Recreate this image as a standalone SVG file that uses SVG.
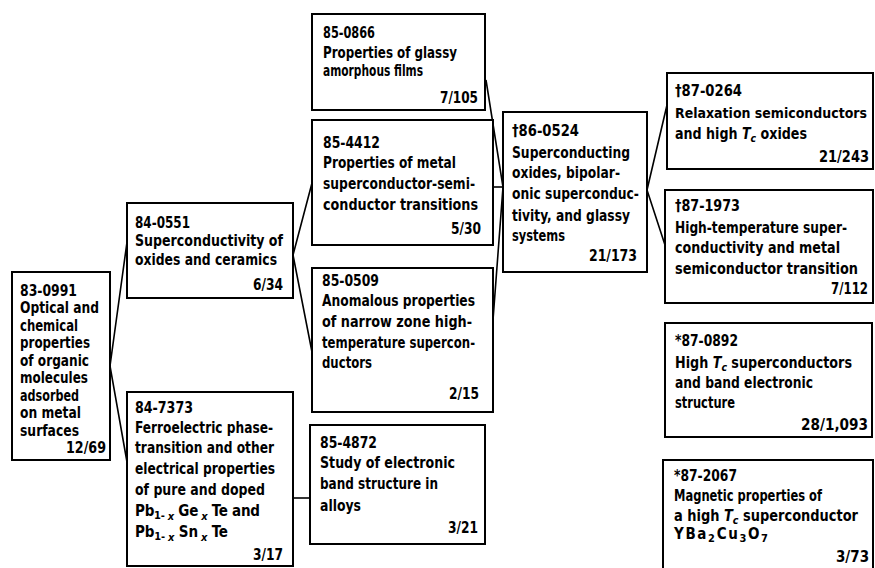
<svg xmlns="http://www.w3.org/2000/svg" width="875" height="568" viewBox="0 0 875 568">
<style>
.bg{fill:#fff}
.box{fill:#fff;stroke:#000;stroke-width:2}
.t{font-family:"DejaVu Sans Condensed","DejaVu Sans",sans-serif;font-stretch:condensed;font-weight:bold;font-size:15px;fill:#000}
.r{text-anchor:end}
.s{font-size:11px}
.i{font-style:italic}
.n{font-size:14px}
.conn{stroke:#000;stroke-width:1.6;fill:none}
</style>
<rect class="bg" x="0" y="0" width="875" height="568"/>
<g id="connectors">
<polyline class="conn" points="127,242 110,366 127,462"/>
<polyline class="conn" points="312,183 293,255 312,352"/>
<line class="conn" x1="293" y1="498" x2="310" y2="498"/>
<line class="conn" x1="493" y1="187" x2="503" y2="187"/>
<polyline class="conn" points="486,80 503,187 493,320"/>
<polyline class="conn" points="667,105 647,190 665,245"/>
</g>
<g id="n830991">
<rect class="box" x="12" y="272" width="98" height="188"/>
<text class="t" x="20" y="295.5" textLength="57" lengthAdjust="spacingAndGlyphs">83-0991</text>
<text class="t" x="20" y="313" textLength="79" lengthAdjust="spacingAndGlyphs">Optical and</text>
<text class="t" x="20" y="330.5" textLength="58" lengthAdjust="spacingAndGlyphs">chemical</text>
<text class="t" x="20" y="348" textLength="70" lengthAdjust="spacingAndGlyphs">properties</text>
<text class="t" x="20" y="365.5" textLength="69" lengthAdjust="spacingAndGlyphs">of organic</text>
<text class="t" x="20" y="383" textLength="68" lengthAdjust="spacingAndGlyphs">molecules</text>
<text class="t" x="20" y="400.5" textLength="59" lengthAdjust="spacingAndGlyphs">adsorbed</text>
<text class="t" x="20" y="418" textLength="61" lengthAdjust="spacingAndGlyphs">on metal</text>
<text class="t" x="20" y="435.5" textLength="59" lengthAdjust="spacingAndGlyphs">surfaces</text>
<text class="t r" x="106" y="453" textLength="40" lengthAdjust="spacingAndGlyphs">12/69</text>
</g>
<g id="n840551">
<rect class="box" x="127" y="203" width="166" height="95"/>
<text class="t" x="135" y="227.5" textLength="55" lengthAdjust="spacingAndGlyphs">84-0551</text>
<text class="t" x="135" y="246" textLength="148" lengthAdjust="spacingAndGlyphs">Superconductivity of</text>
<text class="t" x="135" y="265" textLength="142" lengthAdjust="spacingAndGlyphs">oxides and ceramics</text>
<text class="t r" x="283" y="290" textLength="30" lengthAdjust="spacingAndGlyphs">6/34</text>
</g>
<g id="n847373">
<rect class="box" x="127" y="392" width="166" height="174"/>
<text class="t" x="135" y="412.5" textLength="58" lengthAdjust="spacingAndGlyphs">84-7373</text>
<text class="t" x="135" y="432.5" textLength="138" lengthAdjust="spacingAndGlyphs">Ferroelectric phase-</text>
<text class="t" x="135" y="453" textLength="139" lengthAdjust="spacingAndGlyphs">transition and other</text>
<text class="t" x="135" y="474" textLength="140" lengthAdjust="spacingAndGlyphs">electrical properties</text>
<text class="t" x="135" y="495" textLength="130" lengthAdjust="spacingAndGlyphs">of pure and doped</text>
<text class="t" x="135" y="516" textLength="125" lengthAdjust="spacing">Pb<tspan class="s" dy="3">1-</tspan><tspan class="s i" dy="1"> x</tspan><tspan dy="-4"> Ge</tspan><tspan class="s i" dy="4"> x</tspan><tspan dy="-4"> Te and</tspan></text>
<text class="t" x="135" y="537" textLength="93" lengthAdjust="spacing">Pb<tspan class="s" dy="3">1-</tspan><tspan class="s i" dy="1"> x</tspan><tspan dy="-4"> Sn</tspan><tspan class="s i" dy="4"> x</tspan><tspan dy="-4"> Te</tspan></text>
<text class="t r" x="283" y="560" textLength="30" lengthAdjust="spacingAndGlyphs">3/17</text>
</g>
<g id="n850866">
<rect class="box" x="312" y="14" width="173" height="96"/>
<text class="t" x="323" y="37.5" textLength="52" lengthAdjust="spacingAndGlyphs">85-0866</text>
<text class="t" x="323" y="57.5" textLength="134" lengthAdjust="spacingAndGlyphs">Properties of glassy</text>
<text class="t" x="323" y="76" textLength="100" lengthAdjust="spacingAndGlyphs">amorphous films</text>
<text class="t r" x="478" y="102.5" textLength="38" lengthAdjust="spacingAndGlyphs">7/105</text>
</g>
<g id="n854412">
<rect class="box" x="312" y="120" width="181" height="125"/>
<text class="t" x="323" y="147.5" textLength="57" lengthAdjust="spacingAndGlyphs">85-4412</text>
<text class="t" x="323" y="167.5" textLength="133" lengthAdjust="spacingAndGlyphs">Properties of metal</text>
<text class="t" x="323" y="188.5" textLength="152" lengthAdjust="spacingAndGlyphs">superconductor-semi-</text>
<text class="t" x="323" y="210" textLength="155" lengthAdjust="spacingAndGlyphs">conductor transitions</text>
<text class="t r" x="481" y="233.5" textLength="30" lengthAdjust="spacingAndGlyphs">5/30</text>
</g>
<g id="n850509">
<rect class="box" x="312" y="268" width="181" height="144"/>
<text class="t" x="322" y="285.5" textLength="57" lengthAdjust="spacingAndGlyphs">85-0509</text>
<text class="t" x="322" y="305.5" textLength="153" lengthAdjust="spacingAndGlyphs">Anomalous properties</text>
<text class="t" x="322" y="326.5" textLength="150" lengthAdjust="spacingAndGlyphs">of narrow zone high-</text>
<text class="t" x="322" y="347.5" textLength="153" lengthAdjust="spacingAndGlyphs">temperature supercon-</text>
<text class="t" x="322" y="367.5" textLength="50" lengthAdjust="spacingAndGlyphs">ductors</text>
<text class="t r" x="479" y="398.5" textLength="30" lengthAdjust="spacingAndGlyphs">2/15</text>
</g>
<g id="n854872">
<rect class="box" x="310" y="425" width="175" height="119"/>
<text class="t" x="320" y="447.5" textLength="57" lengthAdjust="spacingAndGlyphs">85-4872</text>
<text class="t" x="320" y="467.5" textLength="135" lengthAdjust="spacingAndGlyphs">Study of electronic</text>
<text class="t" x="320" y="488.5" textLength="118" lengthAdjust="spacingAndGlyphs">band structure in</text>
<text class="t" x="320" y="510.5" textLength="41" lengthAdjust="spacingAndGlyphs">alloys</text>
<text class="t r" x="478" y="533" textLength="30" lengthAdjust="spacingAndGlyphs">3/21</text>
</g>
<g id="n860524">
<rect class="box" x="503" y="112" width="144" height="160"/>
<text class="t" x="512" y="135.5" textLength="67" lengthAdjust="spacingAndGlyphs">†86-0524</text>
<text class="t" x="512" y="157.5" textLength="118" lengthAdjust="spacingAndGlyphs">Superconducting</text>
<text class="t" x="512" y="177.5" textLength="108" lengthAdjust="spacingAndGlyphs">oxides, bipolar-</text>
<text class="t" x="512" y="198.5" textLength="127" lengthAdjust="spacingAndGlyphs">onic superconduc-</text>
<text class="t" x="512" y="220.5" textLength="118" lengthAdjust="spacingAndGlyphs">tivity, and glassy</text>
<text class="t" x="512" y="240.5" textLength="53" lengthAdjust="spacingAndGlyphs">systems</text>
<text class="t r" x="637" y="260.5" textLength="48" lengthAdjust="spacingAndGlyphs">21/173</text>
</g>
<g id="n870264">
<rect class="box" x="667" y="73" width="206" height="96"/>
<text class="t" x="675" y="95.5" textLength="67" lengthAdjust="spacingAndGlyphs">†87-0264</text>
<text class="t n" x="675" y="117.5" textLength="192" lengthAdjust="spacingAndGlyphs">Relaxation semiconductors</text>
<text class="t" x="675" y="138.5" textLength="132" lengthAdjust="spacingAndGlyphs">and high <tspan class="i">T</tspan><tspan class="s i" dy="3">c</tspan><tspan dy="-3"> oxides</tspan></text>
<text class="t r" x="869" y="162" textLength="50" lengthAdjust="spacingAndGlyphs">21/243</text>
</g>
<g id="n871973">
<rect class="box" x="665" y="190" width="208" height="113"/>
<text class="t" x="675" y="210.5" textLength="65" lengthAdjust="spacingAndGlyphs">†87-1973</text>
<text class="t" x="675" y="232.5" textLength="172" lengthAdjust="spacingAndGlyphs">High-temperature super-</text>
<text class="t" x="675" y="252.5" textLength="165" lengthAdjust="spacingAndGlyphs">conductivity and metal</text>
<text class="t" x="675" y="273.5" textLength="183" lengthAdjust="spacingAndGlyphs">semiconductor transition</text>
<text class="t r" x="868" y="293.5" textLength="37" lengthAdjust="spacingAndGlyphs">7/112</text>
</g>
<g id="n870892">
<rect class="box" x="665" y="323" width="207" height="114"/>
<text class="t" x="675" y="345.5" textLength="63" lengthAdjust="spacingAndGlyphs">*87-0892</text>
<text class="t" x="675" y="367.5" textLength="177" lengthAdjust="spacingAndGlyphs">High <tspan class="i">T</tspan><tspan class="s i" dy="3">c</tspan><tspan dy="-3"> superconductors</tspan></text>
<text class="t" x="675" y="387.5" textLength="138" lengthAdjust="spacingAndGlyphs">and band electronic</text>
<text class="t" x="675" y="407.5" textLength="60" lengthAdjust="spacingAndGlyphs">structure</text>
<text class="t r" x="868" y="430" textLength="67" lengthAdjust="spacingAndGlyphs">28/1,093</text>
</g>
<g id="n872067">
<rect class="box" x="663" y="460" width="210" height="112"/>
<text class="t" x="674" y="480.5" textLength="63" lengthAdjust="spacingAndGlyphs">*87-2067</text>
<text class="t" x="674" y="500.5" textLength="148" lengthAdjust="spacingAndGlyphs">Magnetic properties of</text>
<text class="t" x="674" y="520.5" textLength="184" lengthAdjust="spacingAndGlyphs">a high <tspan class="i">T</tspan><tspan class="s i" dy="3">c</tspan><tspan dy="-3"> superconductor</tspan></text>
<text class="t" x="674" y="538.5" textLength="94" lengthAdjust="spacing">YBa<tspan class="s" dy="3">2</tspan><tspan dy="-3">Cu</tspan><tspan class="s" dy="3">3</tspan><tspan dy="-3">O</tspan><tspan class="s" dy="3">7</tspan></text>
<text class="t r" x="869" y="562" textLength="33" lengthAdjust="spacingAndGlyphs">3/73</text>
</g>
</svg>
